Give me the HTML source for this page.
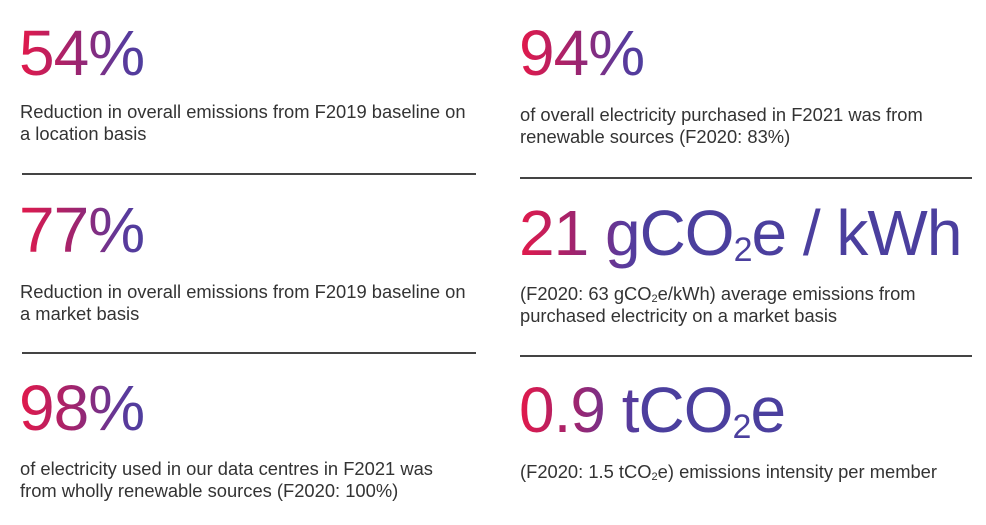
<!DOCTYPE html>
<html><head><meta charset="utf-8"><style>
body{margin:0;width:986px;height:525px;background:#fff;position:relative;overflow:hidden;font-family:"Liberation Sans",Arial,sans-serif}
.big{position:absolute;font-size:64px;line-height:64px;white-space:nowrap;letter-spacing:-1px}
.big span{background:linear-gradient(90deg,#e3194a 0px,#a0246e 55px,#5a3a9c 105px,#4b3f9e 130px,#4b3f9e 1000px);-webkit-background-clip:text;background-clip:text;color:transparent}
.big sub{font-size:34px;vertical-align:-6px;line-height:0}
.t{position:absolute;font-size:18.35px;line-height:22px;color:#333;white-space:nowrap}
.t sub{font-size:11px;vertical-align:-2px;line-height:0}
.r{position:absolute;height:2px;background:#444}
</style></head><body>
<div class="big" style="left:19px;top:21px"><span>54%</span></div>
<div class="t" style="left:20px;top:101px">Reduction in overall emissions from F2019 baseline on<br>a location basis</div>
<div class="r" style="left:22px;top:173px;width:454px"></div>

<div class="big" style="left:19px;top:198px"><span>77%</span></div>
<div class="t" style="left:20px;top:281px">Reduction in overall emissions from F2019 baseline on<br>a market basis</div>
<div class="r" style="left:22px;top:352px;width:454px"></div>

<div class="big" style="left:19px;top:376px"><span>98%</span></div>
<div class="t" style="left:20px;top:458px">of electricity used in our data centres in F2021 was<br>from wholly renewable sources (F2020: 100%)</div>

<div class="big" style="left:519px;top:21px"><span>94%</span></div>
<div class="t" style="left:520px;top:104px">of overall electricity purchased in F2021 was from<br>renewable sources (F2020: 83%)</div>
<div class="r" style="left:520px;top:177px;width:452px"></div>

<div class="big" style="left:519px;top:201px"><span>21 gCO<sub>2</sub>e / kWh</span></div>
<div class="t" style="left:520px;top:283px">(F2020: 63 gCO<sub>2</sub>e/kWh) average emissions from<br>purchased electricity on a market basis</div>
<div class="r" style="left:520px;top:355px;width:452px"></div>

<div class="big" style="left:519px;top:378px"><span>0.9 tCO<sub>2</sub>e</span></div>
<div class="t" style="left:520px;top:461px">(F2020: 1.5 tCO<sub>2</sub>e) emissions intensity per member</div>
</body></html>
